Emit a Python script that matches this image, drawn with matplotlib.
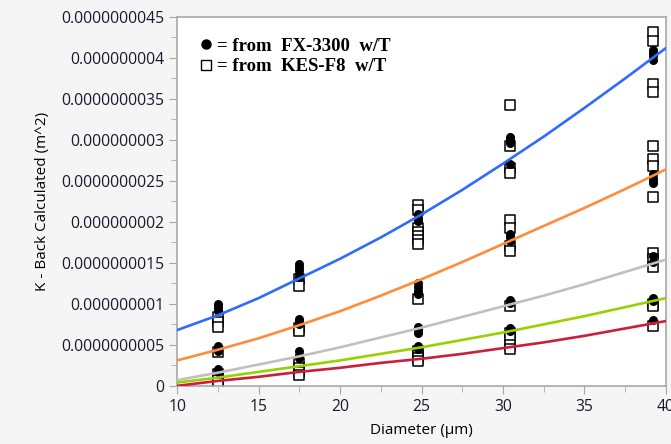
import numpy as np
import matplotlib.pyplot as plt
from matplotlib.lines import Line2D
from matplotlib.ticker import MultipleLocator

# values are in units of 1e-9 m^2
SCALE = 1e-9

diameters = [12.5, 17.5, 24.8, 30.4, 39.2]

fx3300 = [
    [1.00, 0.97, 0.94, 0.91, 0.48, 0.46, 0.43, 0.20, 0.17],
    [1.49, 1.45, 1.41, 1.37, 1.33, 0.82, 0.79, 0.76, 0.42, 0.38, 0.34],
    [2.10, 2.05, 2.01, 1.25, 1.20, 1.16, 1.12, 0.72, 0.68, 0.65, 0.48, 0.45],
    [3.04, 3.00, 2.96, 2.70, 1.85, 1.81, 1.77, 1.05, 1.01, 0.70, 0.67],
    [4.10, 4.06, 4.02, 3.97, 2.58, 2.54, 2.50, 2.47, 1.58, 1.51, 1.07, 1.04, 0.80],
]

kesf8 = [
    [0.84, 0.78, 0.72, 0.41, 0.14, 0.10, 0.07, 0.04],
    [1.30, 1.22, 0.70, 0.67, 0.28, 0.22, 0.17, 0.13],
    [2.20, 2.15, 1.93, 1.88, 1.83, 1.78, 1.73, 1.06, 0.42, 0.38, 0.34, 0.30],
    [3.42, 2.92, 2.66, 2.60, 2.02, 1.93, 1.70, 1.65, 0.97, 0.64, 0.60, 0.50, 0.45],
    [4.32, 4.20, 3.68, 3.58, 2.92, 2.77, 2.68, 2.30, 1.62, 1.55, 1.45, 1.00, 0.97, 0.73],
]

# fitted curves
fit_x = [10, 12.5, 15, 17.5, 20, 22.5, 25, 27.5, 30, 32.5, 35, 37.5, 40]
fit_blue = [0.68, 0.86, 1.07, 1.31, 1.55, 1.81, 2.09, 2.39, 2.71, 3.04, 3.39, 3.75, 4.12]
fit_orange = [0.31, 0.44, 0.58, 0.74, 0.91, 1.10, 1.30, 1.51, 1.73, 1.95, 2.17, 2.40, 2.64]
fit_grey = [0.07, 0.16, 0.26, 0.36, 0.47, 0.59, 0.71, 0.84, 0.97, 1.10, 1.24, 1.39, 1.54]
fit_green = [0.04, 0.10, 0.17, 0.24, 0.31, 0.39, 0.47, 0.56, 0.65, 0.75, 0.85, 0.96, 1.07]
fit_red = [0.00, 0.06, 0.11, 0.17, 0.22, 0.28, 0.33, 0.39, 0.46, 0.53, 0.61, 0.70, 0.79]

ytick_vals = [0, 0.5, 1, 1.5, 2, 2.5, 3, 3.5, 4, 4.5]
ytick_labels = ["0", "0.0000000005", "0.000000001", "0.0000000015", "0.000000002",
                "0.0000000025", "0.000000003", "0.0000000035", "0.000000004",
                "0.0000000045"]

plt.rcParams['font.family'] = ['Open Sans', 'DejaVu Sans']

fig = plt.figure(figsize=(6.71, 4.44), dpi=100, facecolor='#f5f5f5')
ax = fig.add_axes([0.264, 0.131, 0.7285, 0.831])
ax.set_facecolor('white')

for x, ys in zip(diameters, kesf8):
    ax.scatter([x] * len(ys), np.array(ys) * SCALE, marker='s', s=48,
               facecolor='white', edgecolor='black', linewidth=1.1, zorder=2)
for x, ys in zip(diameters, fx3300):
    ax.scatter([x] * len(ys), np.array(ys) * SCALE, marker='o', s=42,
               color='black', linewidth=0, zorder=3)

curves = [(fit_blue, '#2f6bff'), (fit_orange, '#ff8c3a'), (fit_grey, '#c0c0c0'),
          (fit_green, '#99d100'), (fit_red, '#cc1e3c')]
for ys, c in curves:
    ax.plot(fit_x, np.array(ys) * SCALE, color=c, lw=1.9, zorder=4,
            solid_joinstyle='round')

ax.set_xlim(10, 40)
ax.set_ylim(0, 4.5 * SCALE)
ax.xaxis.set_major_locator(MultipleLocator(5))
ax.xaxis.set_minor_locator(MultipleLocator(2.5))
ax.set_yticks(np.array(ytick_vals) * SCALE)
ax.set_yticklabels(ytick_labels)
ax.yaxis.set_minor_locator(MultipleLocator(0.25 * SCALE))

for s in ax.spines.values():
    s.set_color('#a8a8a8')
    s.set_linewidth(1.2)
ax.tick_params(which='major', length=6, color='#a8a8a8', labelsize=11.3,
               labelcolor='#1a1a2e')
ax.tick_params(which='minor', length=4, color='#a8a8a8')

ax.set_xlabel('Diameter (µm)', fontsize=11, labelpad=6)
ax.set_ylabel('K - Back Calculated (m^2)', fontsize=11, labelpad=8)

handles = [
    Line2D([], [], marker='o', ls='', color='black', markersize=6.5),
    Line2D([], [], marker='s', ls='', markerfacecolor='white',
           markeredgecolor='black', markersize=6.5),
]
leg = ax.legend(handles, ['= from  FX-3300  w/T', '= from  KES-F8  w/T'],
                loc='upper left', bbox_to_anchor=(0.012, 0.99), frameon=False,
                handlelength=0.6, handletextpad=0.3, labelspacing=0.2,
                prop={'family': 'Liberation Serif', 'weight': 'bold', 'size': 13.5})

fig.savefig('out.png', dpi=100, facecolor=fig.get_facecolor())
